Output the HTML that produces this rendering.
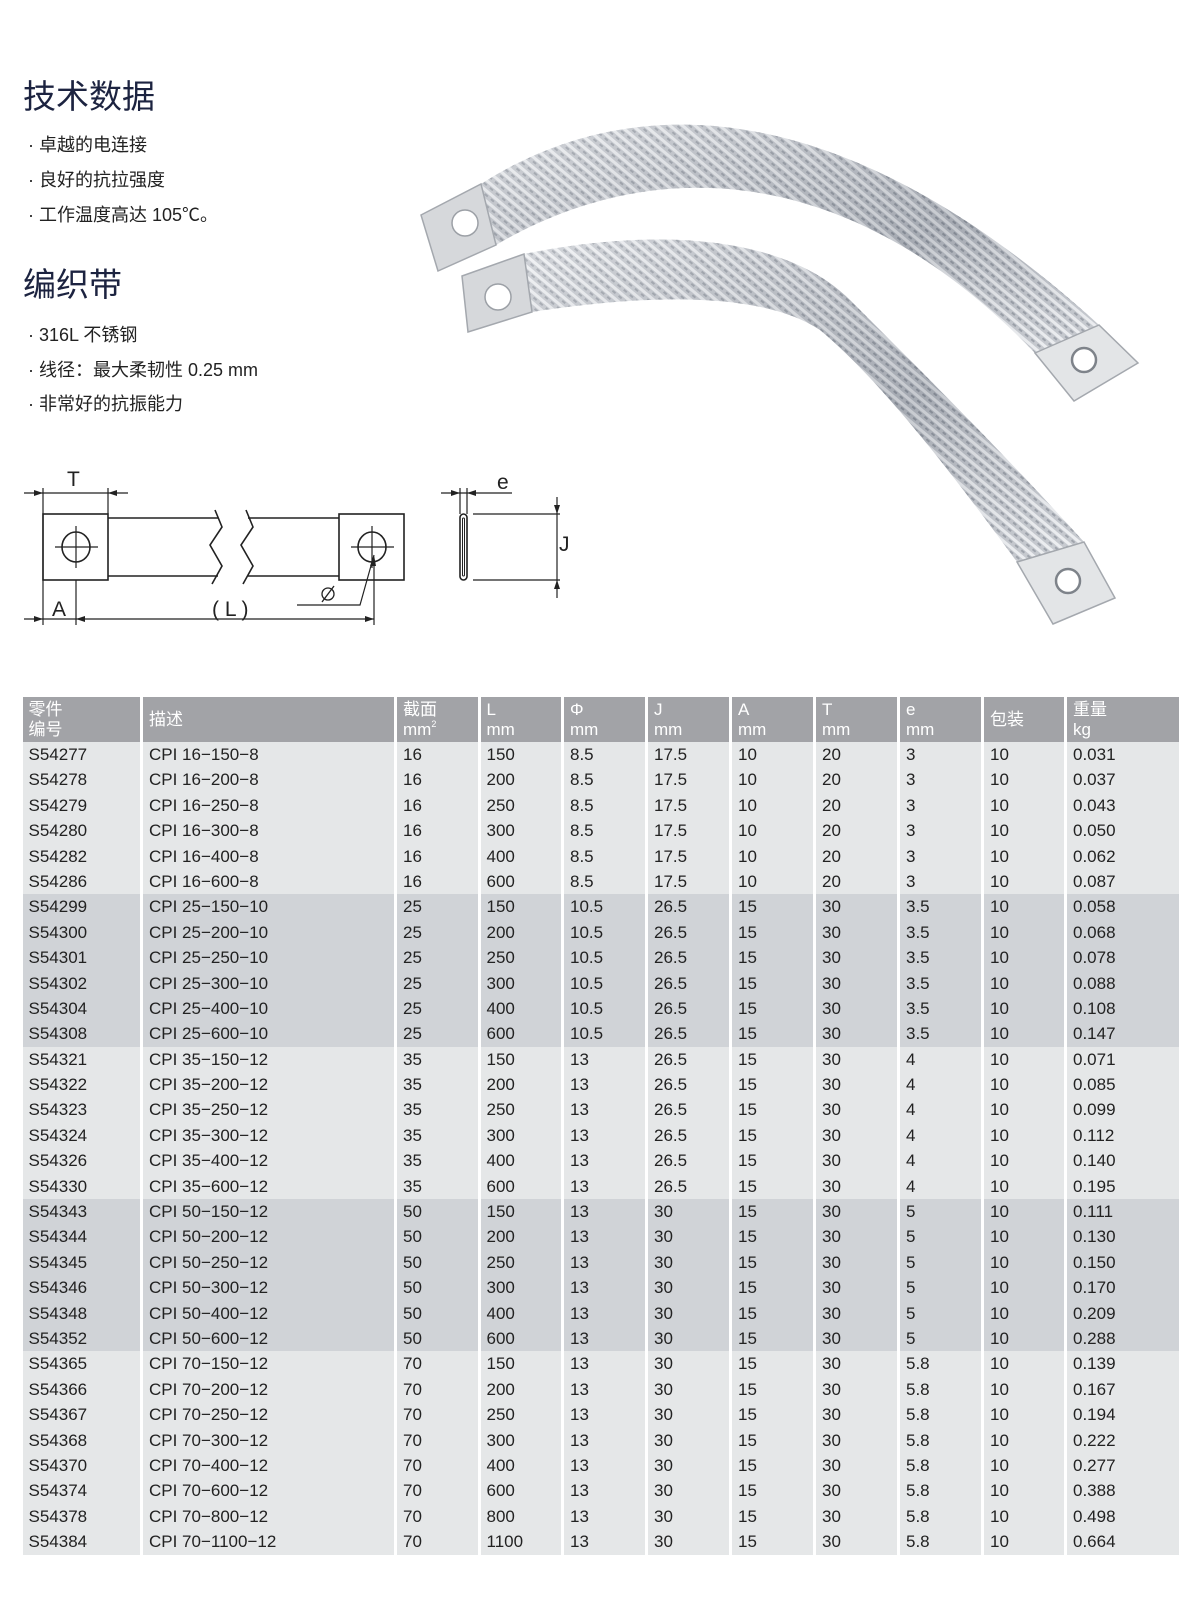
<!DOCTYPE html>
<html><head><meta charset="utf-8">
<style>
html,body{margin:0;padding:0;background:#fff;}
body{width:1200px;height:1601px;position:relative;overflow:hidden;font-family:"Liberation Sans","Noto Sans CJK SC",sans-serif;color:#222;}
h1{position:absolute;margin:0;font-weight:normal;font-size:33px;color:#1c2340;left:23px;font-family:"Liberation Sans","Noto Sans CJK SC",sans-serif;}
.b{position:absolute;left:28px;font-size:18px;color:#222;white-space:nowrap;}
#tb{position:absolute;left:22.5px;top:697px;width:1156px;font-size:17px;}
.r{display:flex;height:25.4px;line-height:25.4px;}
.h{height:45px;line-height:20px;color:#fff;}
.r>div{box-sizing:border-box;padding-left:6px;border-left:3px solid #fff;white-space:nowrap;overflow:hidden;}
.r>div:first-child{border-left:none;}
.h>div{background:#a2a3a7;display:flex;flex-direction:column;justify-content:center;}
.l>div{background:#e5e7e8;}
.d>div{background:#d0d3d7;}
.r>div:nth-child(1){width:117.5px}.r>div:nth-child(2){width:254px}.r>div:nth-child(3){width:83.5px}.r>div:nth-child(4){width:83.5px}
.r>div:nth-child(5),.r>div:nth-child(6),.r>div:nth-child(7),.r>div:nth-child(8),.r>div:nth-child(9){width:84px}
.r>div:nth-child(10){width:83px}.r>div:nth-child(11){width:114.5px}
</style></head><body>
<h1 style="top:70px;">技术数据</h1>
<div class="b" style="top:131px;">· 卓越的电连接</div>
<div class="b" style="top:166px;">· 良好的抗拉强度</div>
<div class="b" style="top:201px;">· 工作温度高达 105℃。</div>
<h1 style="top:258px;">编织带</h1>
<div class="b" style="top:321px;">· 316L 不锈钢</div>
<div class="b" style="top:356px;">· 线径：最大柔韧性 0.25 mm</div>
<div class="b" style="top:390px;">· 非常好的抗振能力</div>

<svg width="1200" height="690" style="position:absolute;left:0;top:0" xmlns="http://www.w3.org/2000/svg">
<defs>
<pattern id="br" width="8" height="8" patternUnits="userSpaceOnUse" patternTransform="rotate(40)">
<rect width="8" height="8" fill="#bcc0c7"/>
<rect width="8" height="3" fill="#eceef1"/>
<rect x="0" y="4" width="4" height="2" fill="#8a909a"/>
</pattern>
<linearGradient id="sh" x1="0" y1="0" x2="1" y2="1">
<stop offset="0" stop-color="#fff" stop-opacity="0.35"/>
<stop offset="0.6" stop-color="#6f7580" stop-opacity="0.3"/>
<stop offset="1" stop-color="#fff" stop-opacity="0.2"/>
</linearGradient>
</defs>
<!-- upper strap -->
<path d="M481,184 C620,95 830,80 1099,325 L1035,353 C840,150 640,160 496,245 Z" fill="url(#br)"/>
<path d="M481,184 C620,95 830,80 1099,325 L1035,353 C840,150 640,160 496,245 Z" fill="url(#sh)"/>
<polygon points="421,215 481,184 496,245 438,271" fill="#d6d8db" stroke="#a4a8ae" stroke-width="1.5"/>
<circle cx="465" cy="223" r="13" fill="#fff" stroke="#9ca0a6" stroke-width="1.5"/>
<polygon points="1035,353 1099,325 1138,363 1074,401" fill="#e3e5e7" stroke="#a4a8ae" stroke-width="1.5"/>
<circle cx="1084" cy="360" r="12" fill="#fff" stroke="#7e838a" stroke-width="2.5"/>
<!-- lower strap -->
<path d="M524,254 C640,230 780,230 850,300 C940,390 1010,460 1084,542 L1017,562 C950,470 880,380 820,330 C760,290 640,295 532,312 Z" fill="url(#br)"/>
<path d="M524,254 C640,230 780,230 850,300 C940,390 1010,460 1084,542 L1017,562 C950,470 880,380 820,330 C760,290 640,295 532,312 Z" fill="url(#sh)"/>
<polygon points="462,276 524,254 532,312 468,332" fill="#d6d8db" stroke="#a4a8ae" stroke-width="1.5"/>
<circle cx="498" cy="297" r="13" fill="#fff" stroke="#9ca0a6" stroke-width="1.5"/>
<polygon points="1017,562 1084,542 1115,598 1053,624" fill="#e3e5e7" stroke="#a4a8ae" stroke-width="1.5"/>
<circle cx="1068" cy="581" r="12" fill="#fff" stroke="#7e838a" stroke-width="2.5"/>

<!-- technical drawing -->
<g stroke="#222" stroke-width="1.6" fill="none">
<rect x="43" y="514" width="65" height="66"/>
<rect x="339" y="514" width="65" height="66"/>
<line x1="108" y1="518" x2="218" y2="518"/><line x1="108" y1="576" x2="218" y2="576"/>
<line x1="248" y1="518" x2="339" y2="518"/><line x1="248" y1="576" x2="339" y2="576"/>
<polyline points="215,510 222,527 210,545 222,566 212,584"/>
<polyline points="246,510 253,527 241,545 253,566 243,584"/>
<ellipse cx="76" cy="547" rx="14" ry="15"/>
<ellipse cx="372" cy="547" rx="14" ry="15"/>
<line x1="55" y1="547" x2="98" y2="547" stroke-width="1.2"/><line x1="76" y1="526" x2="76" y2="568" stroke-width="1.2"/>
<line x1="351" y1="547" x2="394" y2="547" stroke-width="1.2"/><line x1="372" y1="526" x2="372" y2="568" stroke-width="1.2"/>
<line x1="43" y1="488" x2="43" y2="625" stroke-width="1.2"/>
<line x1="108" y1="488" x2="108" y2="514" stroke-width="1.2"/>
<line x1="24" y1="493" x2="128" y2="493" stroke-width="1.2"/>
<line x1="76" y1="580" x2="76" y2="625" stroke-width="1.2"/>
<line x1="24" y1="619" x2="374" y2="619" stroke-width="1.2"/>
<line x1="374" y1="560" x2="374" y2="625" stroke-width="1.2"/>
<polyline points="297,605 360,605 374,555" stroke-width="1.2"/>
<rect x="460" y="514" width="7" height="66" rx="3.5"/>
<rect x="462.5" y="518" width="2" height="58" rx="1" stroke-width="1"/>
<line x1="460" y1="488" x2="460" y2="514" stroke-width="1.2"/><line x1="467" y1="488" x2="467" y2="514" stroke-width="1.2"/>
<line x1="441" y1="493" x2="512" y2="493" stroke-width="1.2"/>
<line x1="473" y1="514" x2="560" y2="514" stroke-width="1.2"/>
<line x1="473" y1="580" x2="560" y2="580" stroke-width="1.2"/>
<line x1="557" y1="497" x2="557" y2="598" stroke-width="1.2"/>
<circle cx="328" cy="594" r="6" stroke-width="1.3"/><line x1="322" y1="602" x2="334" y2="586" stroke-width="1.3"/>
</g>
<g fill="#222">
<polygon points="43,493 34,490 34,496"/><polygon points="108,493 117,490 117,496"/>
<polygon points="43,619 34,616 34,622"/><polygon points="76,619 85,616 85,622"/><polygon points="374,619 365,616 365,622"/>
<polygon points="460,493 451,490 451,496"/><polygon points="467,493 476,490 476,496"/>
<polygon points="557,514 554,505 560,505"/><polygon points="557,580 554,589 560,589"/>
<polygon points="374,555 370,566 376,566"/>
</g>
<g font-family="Liberation Sans,sans-serif" font-size="21" fill="#222">
<text x="67" y="486">T</text>
<text x="52" y="616">A</text>
<text x="212" y="616">( L )</text>
<text x="497" y="489">e</text>
<text x="559" y="551">J</text>
</g>
</svg>

<div id="tb">
<div class="r h"><div><span>零件</span><span>编号</span></div><div>描述</div><div><span>截面</span><span>mm<sup style="font-size:9px;vertical-align:8px;line-height:0">2</sup></span></div><div><span>L</span><span>mm</span></div><div><span>Φ</span><span>mm</span></div><div><span>J</span><span>mm</span></div><div><span>A</span><span>mm</span></div><div><span>T</span><span>mm</span></div><div><span>e</span><span>mm</span></div><div>包装</div><div><span>重量</span><span>kg</span></div></div>
<div class="r l"><div>S54277</div><div>CPI 16−150−8</div><div>16</div><div>150</div><div>8.5</div><div>17.5</div><div>10</div><div>20</div><div>3</div><div>10</div><div>0.031</div></div>
<div class="r l"><div>S54278</div><div>CPI 16−200−8</div><div>16</div><div>200</div><div>8.5</div><div>17.5</div><div>10</div><div>20</div><div>3</div><div>10</div><div>0.037</div></div>
<div class="r l"><div>S54279</div><div>CPI 16−250−8</div><div>16</div><div>250</div><div>8.5</div><div>17.5</div><div>10</div><div>20</div><div>3</div><div>10</div><div>0.043</div></div>
<div class="r l"><div>S54280</div><div>CPI 16−300−8</div><div>16</div><div>300</div><div>8.5</div><div>17.5</div><div>10</div><div>20</div><div>3</div><div>10</div><div>0.050</div></div>
<div class="r l"><div>S54282</div><div>CPI 16−400−8</div><div>16</div><div>400</div><div>8.5</div><div>17.5</div><div>10</div><div>20</div><div>3</div><div>10</div><div>0.062</div></div>
<div class="r l"><div>S54286</div><div>CPI 16−600−8</div><div>16</div><div>600</div><div>8.5</div><div>17.5</div><div>10</div><div>20</div><div>3</div><div>10</div><div>0.087</div></div>
<div class="r d"><div>S54299</div><div>CPI 25−150−10</div><div>25</div><div>150</div><div>10.5</div><div>26.5</div><div>15</div><div>30</div><div>3.5</div><div>10</div><div>0.058</div></div>
<div class="r d"><div>S54300</div><div>CPI 25−200−10</div><div>25</div><div>200</div><div>10.5</div><div>26.5</div><div>15</div><div>30</div><div>3.5</div><div>10</div><div>0.068</div></div>
<div class="r d"><div>S54301</div><div>CPI 25−250−10</div><div>25</div><div>250</div><div>10.5</div><div>26.5</div><div>15</div><div>30</div><div>3.5</div><div>10</div><div>0.078</div></div>
<div class="r d"><div>S54302</div><div>CPI 25−300−10</div><div>25</div><div>300</div><div>10.5</div><div>26.5</div><div>15</div><div>30</div><div>3.5</div><div>10</div><div>0.088</div></div>
<div class="r d"><div>S54304</div><div>CPI 25−400−10</div><div>25</div><div>400</div><div>10.5</div><div>26.5</div><div>15</div><div>30</div><div>3.5</div><div>10</div><div>0.108</div></div>
<div class="r d"><div>S54308</div><div>CPI 25−600−10</div><div>25</div><div>600</div><div>10.5</div><div>26.5</div><div>15</div><div>30</div><div>3.5</div><div>10</div><div>0.147</div></div>
<div class="r l"><div>S54321</div><div>CPI 35−150−12</div><div>35</div><div>150</div><div>13</div><div>26.5</div><div>15</div><div>30</div><div>4</div><div>10</div><div>0.071</div></div>
<div class="r l"><div>S54322</div><div>CPI 35−200−12</div><div>35</div><div>200</div><div>13</div><div>26.5</div><div>15</div><div>30</div><div>4</div><div>10</div><div>0.085</div></div>
<div class="r l"><div>S54323</div><div>CPI 35−250−12</div><div>35</div><div>250</div><div>13</div><div>26.5</div><div>15</div><div>30</div><div>4</div><div>10</div><div>0.099</div></div>
<div class="r l"><div>S54324</div><div>CPI 35−300−12</div><div>35</div><div>300</div><div>13</div><div>26.5</div><div>15</div><div>30</div><div>4</div><div>10</div><div>0.112</div></div>
<div class="r l"><div>S54326</div><div>CPI 35−400−12</div><div>35</div><div>400</div><div>13</div><div>26.5</div><div>15</div><div>30</div><div>4</div><div>10</div><div>0.140</div></div>
<div class="r l"><div>S54330</div><div>CPI 35−600−12</div><div>35</div><div>600</div><div>13</div><div>26.5</div><div>15</div><div>30</div><div>4</div><div>10</div><div>0.195</div></div>
<div class="r d"><div>S54343</div><div>CPI 50−150−12</div><div>50</div><div>150</div><div>13</div><div>30</div><div>15</div><div>30</div><div>5</div><div>10</div><div>0.111</div></div>
<div class="r d"><div>S54344</div><div>CPI 50−200−12</div><div>50</div><div>200</div><div>13</div><div>30</div><div>15</div><div>30</div><div>5</div><div>10</div><div>0.130</div></div>
<div class="r d"><div>S54345</div><div>CPI 50−250−12</div><div>50</div><div>250</div><div>13</div><div>30</div><div>15</div><div>30</div><div>5</div><div>10</div><div>0.150</div></div>
<div class="r d"><div>S54346</div><div>CPI 50−300−12</div><div>50</div><div>300</div><div>13</div><div>30</div><div>15</div><div>30</div><div>5</div><div>10</div><div>0.170</div></div>
<div class="r d"><div>S54348</div><div>CPI 50−400−12</div><div>50</div><div>400</div><div>13</div><div>30</div><div>15</div><div>30</div><div>5</div><div>10</div><div>0.209</div></div>
<div class="r d"><div>S54352</div><div>CPI 50−600−12</div><div>50</div><div>600</div><div>13</div><div>30</div><div>15</div><div>30</div><div>5</div><div>10</div><div>0.288</div></div>
<div class="r l"><div>S54365</div><div>CPI 70−150−12</div><div>70</div><div>150</div><div>13</div><div>30</div><div>15</div><div>30</div><div>5.8</div><div>10</div><div>0.139</div></div>
<div class="r l"><div>S54366</div><div>CPI 70−200−12</div><div>70</div><div>200</div><div>13</div><div>30</div><div>15</div><div>30</div><div>5.8</div><div>10</div><div>0.167</div></div>
<div class="r l"><div>S54367</div><div>CPI 70−250−12</div><div>70</div><div>250</div><div>13</div><div>30</div><div>15</div><div>30</div><div>5.8</div><div>10</div><div>0.194</div></div>
<div class="r l"><div>S54368</div><div>CPI 70−300−12</div><div>70</div><div>300</div><div>13</div><div>30</div><div>15</div><div>30</div><div>5.8</div><div>10</div><div>0.222</div></div>
<div class="r l"><div>S54370</div><div>CPI 70−400−12</div><div>70</div><div>400</div><div>13</div><div>30</div><div>15</div><div>30</div><div>5.8</div><div>10</div><div>0.277</div></div>
<div class="r l"><div>S54374</div><div>CPI 70−600−12</div><div>70</div><div>600</div><div>13</div><div>30</div><div>15</div><div>30</div><div>5.8</div><div>10</div><div>0.388</div></div>
<div class="r l"><div>S54378</div><div>CPI 70−800−12</div><div>70</div><div>800</div><div>13</div><div>30</div><div>15</div><div>30</div><div>5.8</div><div>10</div><div>0.498</div></div>
<div class="r l"><div>S54384</div><div>CPI 70−1100−12</div><div>70</div><div>1100</div><div>13</div><div>30</div><div>15</div><div>30</div><div>5.8</div><div>10</div><div>0.664</div></div>
</div>
</body></html>
